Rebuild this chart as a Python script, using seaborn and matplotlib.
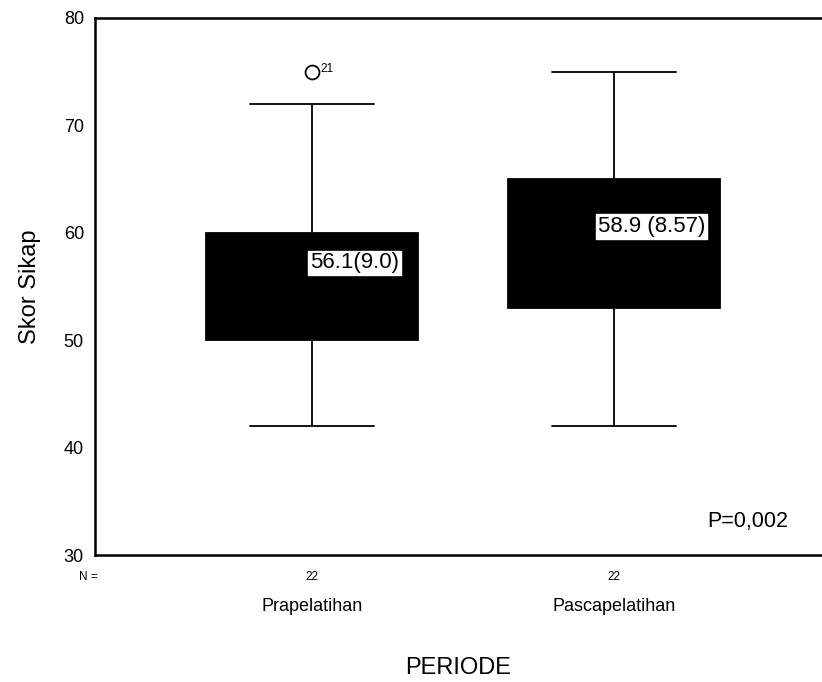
import numpy as np
import pandas as pd
import matplotlib
matplotlib.use("Agg")
import matplotlib.pyplot as plt
import seaborn as sns

# Skor sikap per periode (n = 22 each), estimated from the box plot
periods = ["Prapelatihan", "Pascapelatihan"]
skorPra = [42, 44, 46, 48, 49, 50, 50, 52, 54, 55, 56,
           56, 57, 58, 59, 60, 60, 62, 64, 68, 72, 75]
skorPasca = [42, 45, 48, 50, 52, 53, 53, 55, 56, 57, 58,
             59, 60, 61, 63, 65, 65, 66, 68, 70, 72, 75]
meanSdLabels = ["56.1(9.0)", "58.9 (8.57)"]
labelPos = [(0.14, 57.2), (1.125, 60.6)]
outlierCase = "21"
pValueText = "P=0,002"
yTicks = [30, 40, 50, 60, 70, 80]

df = pd.DataFrame({
    "PERIODE": [periods[0]] * len(skorPra) + [periods[1]] * len(skorPasca),
    "Skor Sikap": skorPra + skorPasca,
})

sns.set_theme(style="white")
plt.rcParams["font.family"] = ["Liberation Sans", "DejaVu Sans"]
plt.rcParams["text.color"] = "black"
plt.rcParams["axes.labelcolor"] = "black"
plt.rcParams["xtick.color"] = "black"
plt.rcParams["ytick.color"] = "black"

fig = plt.figure(figsize=(8.22, 6.82), dpi=100)
ax = fig.add_axes([95 / 822, 127 / 682, 727 / 822, 537 / 682])

sns.boxplot(data=df, x="PERIODE", y="Skor Sikap", order=periods,
            color="black", saturation=1, width=0.7, whis=1.4,
            linecolor="black", linewidth=1.3, fliersize=10,
            capwidths=0.41,
            flierprops=dict(marker="o", markerfacecolor="none",
                            markeredgecolor="black", markeredgewidth=1.3),
            ax=ax)

ax.set_ylim(30, 80)
ax.set_xlim(-0.7185, 1.689)
ax.set_yticks(yTicks)
ax.tick_params(axis="y", labelsize=13, direction="out", length=3, width=2.5,
               color="black", pad=5)
ax.tick_params(axis="x", labelsize=13, direction="out", length=4, width=2.5,
               color="black", pad=27)
for side in ["left", "bottom", "top"]:
    ax.spines[side].set_color("black")
    ax.spines[side].set_linewidth(1.8)
ax.spines["right"].set_visible(False)

ax.set_ylabel("Skor Sikap", fontsize=17, labelpad=16)
ax.set_xlabel("PERIODE", fontsize=17, labelpad=30)

# N = counts under each category
counts = [len(skorPra), len(skorPasca)]
for i, n in enumerate(counts):
    ax.annotate(str(n), xy=(i, 0), xycoords=("data", "axes fraction"),
                xytext=(0, -16), textcoords="offset points",
                ha="center", va="center", fontsize=8.5)
ax.annotate("N =", xy=(0, 0), xycoords="axes fraction",
            xytext=(-5, -16), textcoords="offset points",
            ha="center", va="center", fontsize=8.5)

# outlier case number
ax.annotate(outlierCase, xy=(0, 75), xytext=(6, 2), textcoords="offset points",
            ha="left", va="center", fontsize=8.5)

# mean (SD) labels
for (x, y), txt in zip(labelPos, meanSdLabels):
    ax.text(x, y, txt, ha="center", va="center", fontsize=16, color="black",
            bbox=dict(boxstyle="square,pad=0.08", facecolor="white",
                      edgecolor="white"))

ax.text(1.444, 33.15, pValueText, ha="center", va="center", fontsize=15.5)

fig.savefig("out.png", dpi=100)
